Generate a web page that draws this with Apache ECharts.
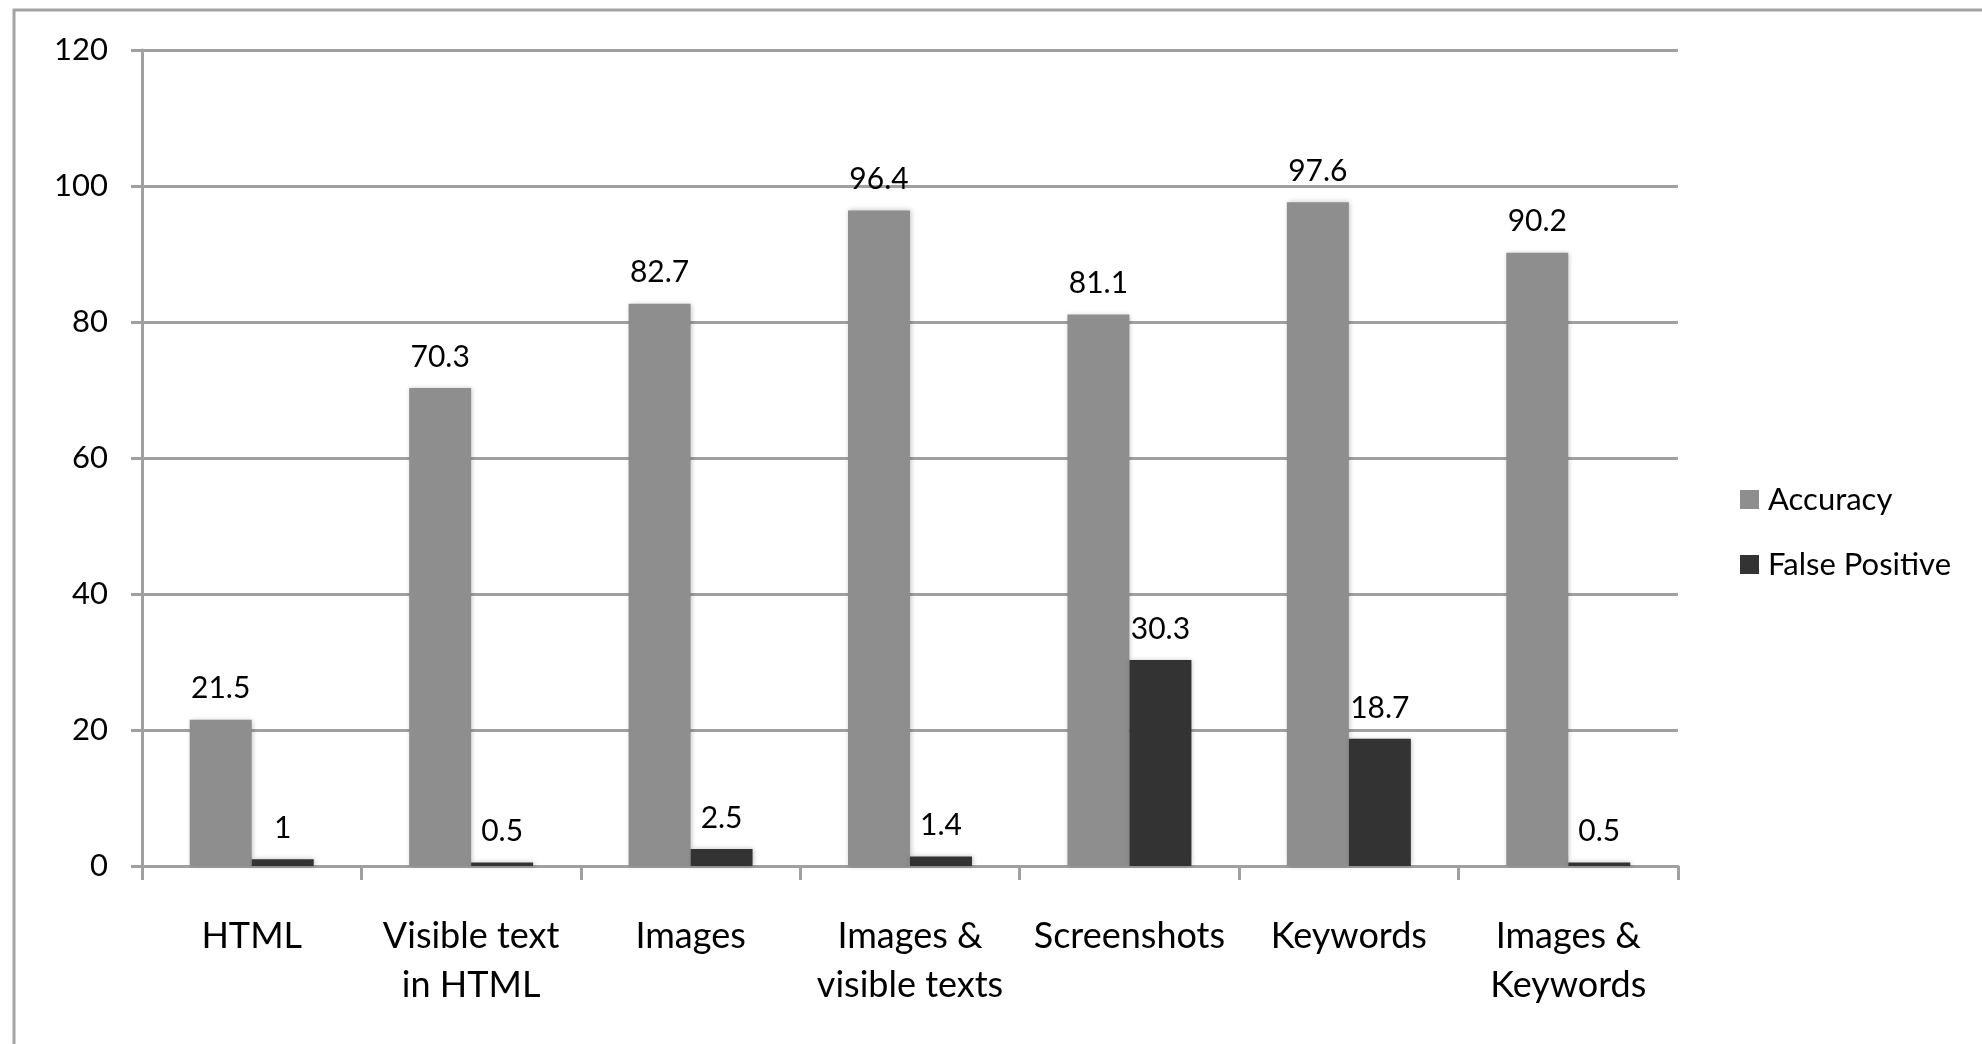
<!DOCTYPE html>
<html>
<head>
<meta charset="utf-8">
<script src="https://cdn.jsdelivr.net/npm/echarts@6/dist/echarts.min.js"></script>
<style>
html,body{margin:0;padding:0;background:#fff;}
#chart{width:1982px;height:1044px;}
</style>
</head>
<body>
<div id="chart"></div>
<script>
const categories = ['HTML', 'Visible text\nin HTML', 'Images', 'Images &\nvisible texts', 'Screenshots', 'Keywords', 'Images &\nKeywords'];
const accuracy = [21.5, 70.3, 82.7, 96.4, 81.1, 97.6, 90.2];
const falsePositive = [1, 0.5, 2.5, 1.4, 30.3, 18.7, 0.5];
const seriesNames = ['Accuracy', 'False Positive'];

const FONT = 'Lato';
const chart = echarts.init(document.getElementById('chart'));
const barShadow = {shadowColor: 'rgba(0,0,0,0.25)', shadowBlur: 5, shadowOffsetX: 1, shadowOffsetY: 0};
chart.setOption({
  animation: false,
  backgroundColor: '#ffffff',
  graphic: [{
    type: 'rect', silent: true, z: -1,
    shape: {x: 14, y: 10, width: 2100, height: 1100},
    style: {fill: 'none', stroke: '#a3a3a3', lineWidth: 3}
  }],
  grid: {left: 142, right: 304, top: 50, bottom: 178, containLabel: false},
  legend: {
    orient: 'vertical', left: 1735, top: 479,
    icon: 'rect', itemWidth: 19, itemHeight: 19, itemGap: 34,
    textStyle: {fontFamily: FONT, fontSize: 31, color: '#000', lineHeight: 19, padding: [0, 0, 0, 4]},
    data: seriesNames
  },
  xAxis: {
    type: 'category', data: categories, boundaryGap: true,
    axisLine: {lineStyle: {color: '#a0a0a0', width: 3}},
    axisTick: {show: true, length: 14, lineStyle: {color: '#a0a0a0', width: 3}},
    axisLabel: {fontFamily: FONT, fontSize: 36, color: '#000', margin: 46, lineHeight: 49, interval: 0}
  },
  yAxis: {
    type: 'value', min: 0, max: 120, interval: 20,
    axisLine: {show: true, lineStyle: {color: '#a0a0a0', width: 3}},
    axisTick: {show: true, length: 11, lineStyle: {color: '#a0a0a0', width: 3}},
    axisLabel: {fontFamily: FONT, fontSize: 31, color: '#000', margin: 34},
    splitLine: {lineStyle: {color: '#a0a0a0', width: 3}}
  },
  series: [
    {
      name: seriesNames[0], type: 'bar', data: accuracy, barWidth: 62, barGap: '0%',
      itemStyle: Object.assign({color: '#8e8e8e'}, barShadow),
      label: {show: true, position: 'top', distance: 16, fontFamily: FONT, fontSize: 30, color: '#000'}
    },
    {
      name: seriesNames[1], type: 'bar', data: falsePositive, barWidth: 62, barGap: '0%',
      itemStyle: Object.assign({color: '#333333'}, barShadow),
      label: {show: true, position: 'top', distance: 16, fontFamily: FONT, fontSize: 30, color: '#000'}
    }
  ]
});
</script>
</body>
</html>
